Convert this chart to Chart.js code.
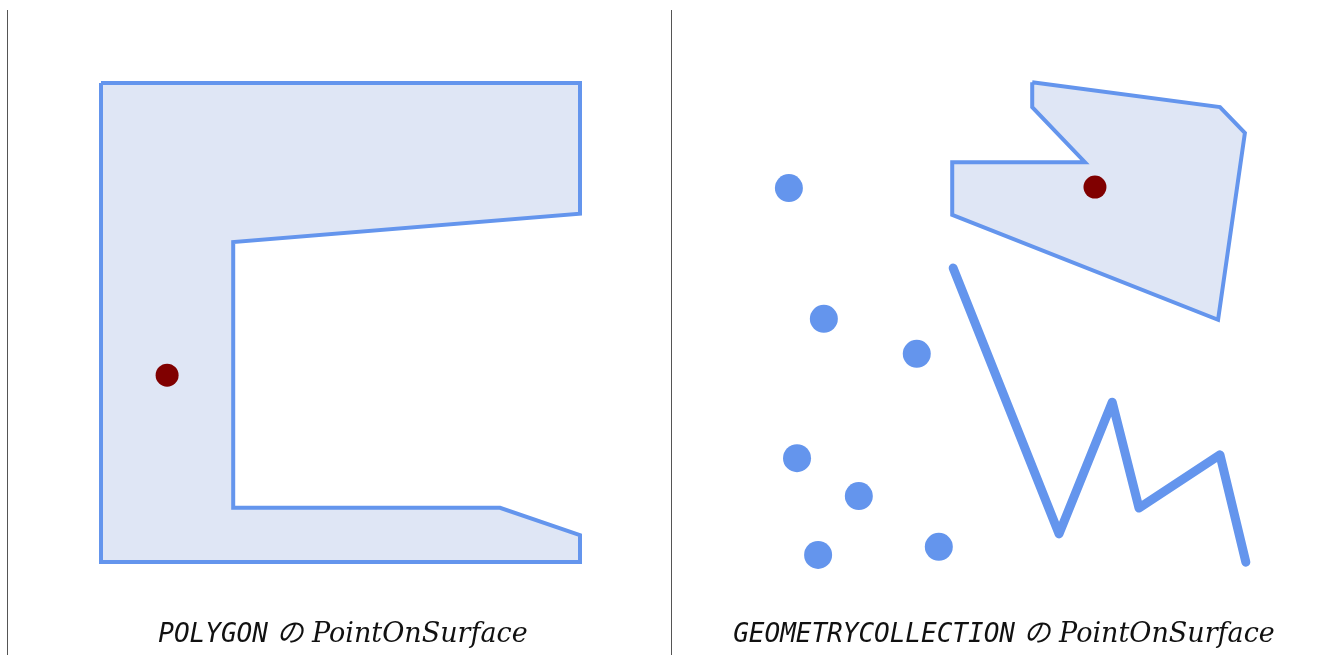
<!DOCTYPE html>
<html>
<head>
<meta charset="utf-8">
<script src="https://cdn.jsdelivr.net/npm/chart.js@4/dist/chart.umd.min.js"></script>
<style>
  html, body { margin: 0; padding: 0; background: #fff; }
  body { width: 1328px; height: 655px; position: relative; overflow: hidden; }
  canvas { position: absolute; top: 0; }
  .sep { position: absolute; top: 10px; width: 1px; height: 645px; background: #555; z-index: 5; }
  .cap { position: absolute; top: 618px; height: 30px; line-height: 30px; text-align: center;
         font-size: 27px; color: #111; white-space: nowrap; z-index: 5; }
  .cap .m { font-family: "DejaVu Sans Mono", monospace; font-style: italic; font-size: 26px; line-height: 30px; }
  .cap .s { font-family: "DejaVu Serif", "Noto Sans CJK JP", serif; font-style: italic; font-size: 27px; line-height: 30px; }
</style>
</head>
<body>
<canvas id="left" width="671" height="655" style="left:0;width:671px;height:655px"></canvas>
<canvas id="right" width="656" height="655" style="left:672px;width:656px;height:655px"></canvas>
<div class="sep" style="left:7px"></div>
<div class="sep" style="left:671px"></div>
<div class="cap" id="capL" style="left:0;width:686px"></div>
<div class="cap" id="capR" style="left:672px;width:664px"></div>
<script>
// ---- data (geometry units) ----
const captionLeftType = "POLYGON";
const captionRightType = "GEOMETRYCOLLECTION";
const captionSuffix = " の PointOnSurface";

const leftPolygonX = [0, 100, 100, 27.6, 27.6, 83.3, 100, 100, 0, 0];
const leftPolygonY = [100, 100, 72.7, 66.8, 11.3, 11.3, 5.6, 0, 0, 100];
const leftResultX = [13.8];
const leftResultY = [39.0];

const rightPolygonX = [58.5, 97.7, 102.9, 97.3, 41.8, 41.8, 69.5, 58.5, 58.5];
const rightPolygonY = [108.1, 102.9, 97.5, 58.5, 80.4, 91.4, 91.4, 102.9, 108.1];
const rightLineX = [42.0, 64.1, 75.2, 80.8, 97.7, 103.1];
const rightLineY = [69.3, 13.8, 41.3, 19.2, 30.3, 7.9];
const rightPointsX = [7.7, 15.0, 34.4, 9.4, 22.3, 13.8, 39.0];
const rightPointsY = [86.0, 58.7, 51.4, 29.6, 21.7, 9.4, 11.1];
const rightResultX = [71.6];
const rightResultY = [86.2];

// ---- styles ----
const EDGE = "#6495ED";
const FILL = "rgb(223,230,245)";
const RESULT = "#800000";
const UNIT = 4.79; // pixels per geometry unit

const pts = (xs, ys) => xs.map((x, i) => ({ x: x, y: ys[i] }));

function polygonDS(xs, ys) {
  return { data: pts(xs, ys), showLine: true, fill: 'shape', backgroundColor: FILL,
           borderColor: EDGE, borderWidth: 4, borderJoinStyle: 'miter', borderCapStyle: 'butt',
           tension: 0, pointRadius: 0, pointHoverRadius: 0, clip: false };
}
function lineDS(xs, ys) {
  return { data: pts(xs, ys), showLine: true, fill: false, borderColor: EDGE, borderWidth: 9,
           borderJoinStyle: 'round', borderCapStyle: 'round', tension: 0,
           pointRadius: 0, pointHoverRadius: 0, clip: false };
}
function pointDS(xs, ys, color, r) {
  return { data: pts(xs, ys), showLine: false, fill: false, pointRadius: r, pointHoverRadius: r,
           pointBackgroundColor: color, pointBorderWidth: 0, borderColor: color, clip: false };
}

function makeChart(id, datasets, originX, originY, w, h) {
  new Chart(document.getElementById(id), {
    type: 'line',
    data: { datasets: datasets },
    options: {
      responsive: false, animation: false, devicePixelRatio: 1,
      layout: { padding: 0, autoPadding: false },
      plugins: { legend: { display: false }, tooltip: { enabled: false } },
      events: [],
      scales: {
        x: { type: 'linear', display: false, min: -originX / UNIT, max: (w - originX) / UNIT },
        y: { type: 'linear', display: false, min: (originY - h) / UNIT, max: originY / UNIT }
      }
    }
  });
}

// first dataset is drawn on top
makeChart('left', [
  pointDS(leftResultX, leftResultY, RESULT, 11.5),
  polygonDS(leftPolygonX, leftPolygonY)
], 101, 562, 671, 655);

makeChart('right', [
  pointDS(rightResultX, rightResultY, RESULT, 11.5),
  pointDS(rightPointsX, rightPointsY, EDGE, 14),
  lineDS(rightLineX, rightLineY),
  polygonDS(rightPolygonX, rightPolygonY)
], 752 - 672, 600, 656, 655);

function caption(el, type) {
  const m = document.createElement('span'); m.className = 'm'; m.textContent = type;
  const s = document.createElement('span'); s.className = 's'; s.textContent = captionSuffix;
  el.appendChild(m); el.appendChild(s);
}
caption(document.getElementById('capL'), captionLeftType);
caption(document.getElementById('capR'), captionRightType);
</script>
</body>
</html>
